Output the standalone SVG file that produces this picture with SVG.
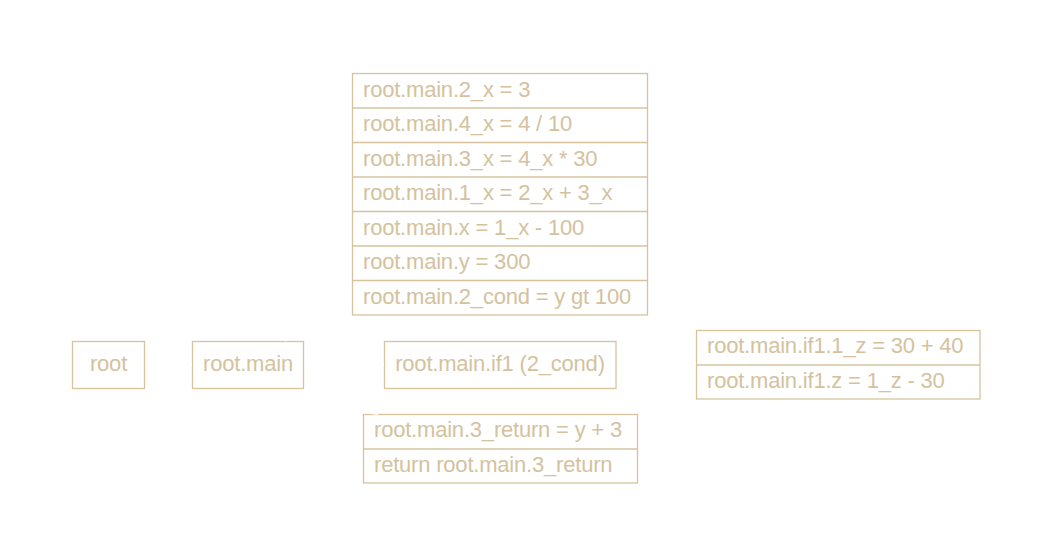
<svg xmlns="http://www.w3.org/2000/svg" width="1053" height="557" viewBox="0 0 1053 557">
<style>
.box{fill:#ffffff;stroke:#d6c39e;stroke-width:1.3}
.div{stroke:#d6c39e;stroke-width:1.3}
.t{font-family:"Liberation Sans",Arial,sans-serif;font-size:22px;letter-spacing:-0.2px;fill:#d4c29e}
.c{text-anchor:middle}
.e{fill:none;stroke:#ffffff;stroke-width:2}
</style>
<rect width="1053" height="557" fill="#ffffff"/>
<g id="root">
<rect class="box" x="72.5" y="341.5" width="72" height="47"/>
<text class="t c" x="108.5" y="371">root</text>
</g>
<g id="root.main">
<rect class="box" x="192.5" y="341.5" width="111" height="47"/>
<text class="t c" x="248" y="371">root.main</text>
</g>
<g id="main-body">
<rect class="box" x="352.5" y="73.5" width="295" height="241.5"/>
<line class="div" x1="352.5" y1="108" x2="647.5" y2="108"/>
<line class="div" x1="352.5" y1="142.5" x2="647.5" y2="142.5"/>
<line class="div" x1="352.5" y1="177" x2="647.5" y2="177"/>
<line class="div" x1="352.5" y1="211.5" x2="647.5" y2="211.5"/>
<line class="div" x1="352.5" y1="246" x2="647.5" y2="246"/>
<line class="div" x1="352.5" y1="280.5" x2="647.5" y2="280.5"/>
<text class="t" x="363" y="96.5">root.main.2_x = 3</text>
<text class="t" x="363" y="131">root.main.4_x = 4 / 10</text>
<text class="t" x="363" y="165.5">root.main.3_x = 4_x * 30</text>
<text class="t" x="363" y="200">root.main.1_x = 2_x + 3_x</text>
<text class="t" x="363" y="234.5">root.main.x = 1_x - 100</text>
<text class="t" x="363" y="269">root.main.y = 300</text>
<text class="t" x="363" y="304">root.main.2_cond = y gt 100</text>
</g>
<g id="root.main.if1">
<rect class="box" x="384.5" y="341.5" width="231.5" height="47"/>
<text class="t c" x="500" y="371">root.main.if1 (2_cond)</text>
</g>
<g id="if1-body">
<rect class="box" x="696.5" y="330.5" width="283.5" height="68.5"/>
<line class="div" x1="696.5" y1="365" x2="980" y2="365"/>
<text class="t" x="707" y="353">root.main.if1.1_z = 30 + 40</text>
<text class="t" x="707" y="387.5">root.main.if1.z = 1_z - 30</text>
</g>
<g id="return-body">
<rect class="box" x="363.5" y="414.5" width="274" height="68.5"/>
<line class="div" x1="363.5" y1="449" x2="637.5" y2="449"/>
<text class="t" x="374" y="437">root.main.3_return = y + 3</text>
<text class="t" x="374" y="471.5">return root.main.3_return</text>
</g>
<g id="connectors">
<path class="e" d="M145.5,365 L192,365"/>
<path class="e" d="M285,341 C310,310 330,298 352,296"/>
<path class="e" d="M304.5,365 L384,365"/>
<path class="e" d="M304.5,386 C330,400 360,412 378,414"/>
<path class="e" d="M617.5,365 C650,365 670,363 696,363"/>
</g>
</svg>
